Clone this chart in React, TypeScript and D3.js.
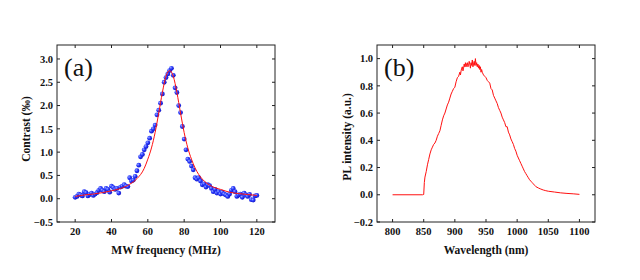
import React from 'react';
import * as d3 from 'd3';

// ---- panel (a): ODMR contrast vs MW frequency ----
const mwFreq = [
  20, 21, 22, 23, 24, 25, 26, 27, 28, 29, 30, 31, 32, 33, 34, 35, 36, 37, 38, 39,
  40, 41, 42, 43, 44, 45, 46, 47, 48, 49, 50, 51, 52, 53, 54, 55, 56, 57, 58, 59,
  60, 61, 62, 63, 64, 65, 66, 67, 68, 69, 70, 71, 72, 73, 74, 75, 76, 77, 78, 79,
  80, 81, 82, 83, 84, 85, 86, 87, 88, 89, 90, 91, 92, 93, 94, 95, 96, 97, 98, 99,
  100, 101, 102, 103, 104, 105, 106, 107, 108, 109, 110, 111, 112, 113, 114, 115, 116, 117, 118, 119, 120,
];
const contrast = [
  0.03, 0.05, 0.10, 0.08, 0.06, 0.15, 0.13, 0.06, 0.09, 0.12, 0.07, 0.10, 0.13, 0.18, 0.22, 0.18, 0.15, 0.22, 0.20, 0.14,
  0.27, 0.24, 0.20, 0.22, 0.12, 0.25, 0.27, 0.30, 0.27, 0.26, 0.45, 0.38, 0.40, 0.48, 0.60, 0.72, 0.90, 0.95, 1.05, 1.12,
  1.20, 1.30, 1.45, 1.50, 1.58, 1.80, 1.90, 2.05, 2.25, 2.50, 2.60, 2.68, 2.75, 2.80, 2.65, 2.38, 2.28, 2.00, 1.85, 1.55,
  1.28, 1.05, 0.85, 0.80, 0.70, 0.62, 0.45, 0.42, 0.45, 0.38, 0.30, 0.32, 0.25, 0.30, 0.28, 0.22, 0.15, 0.20, 0.12, 0.15,
  0.10, 0.14, 0.10, 0.08, 0.05, 0.10, 0.18, 0.22, 0.15, 0.05, 0.08, 0.10, 0.03, 0.12, 0.08, 0.05, 0.09, -0.02, -0.03, 0.06, 0.07,
];
const fitFreq = [20, 25, 30, 35, 40, 45, 50, 54, 58, 60, 62, 64, 66, 68, 70, 71, 72, 73, 74, 76, 78, 80, 82, 84, 86, 88, 90, 95, 100, 105, 110, 115, 120];
const fitContrast = [0.05, 0.08, 0.10, 0.13, 0.17, 0.22, 0.31, 0.43, 0.65, 0.85, 1.09, 1.42, 1.84, 2.28, 2.63, 2.72, 2.75, 2.72, 2.63, 2.28, 1.84, 1.42, 1.09, 0.85, 0.66, 0.52, 0.42, 0.27, 0.20, 0.14, 0.11, 0.09, 0.07];
const aXTicks = [20, 40, 60, 80, 100, 120];
const aYTicks = [-0.5, 0.0, 0.5, 1.0, 1.5, 2.0, 2.5, 3.0];

// ---- panel (b): PL spectrum ----
const plWavelength = [
  800, 848, 850, 851, 852, 854, 856, 858, 860, 862, 864, 866, 868, 870, 872, 874, 876, 878, 880, 882,
  884, 886, 888, 890, 892, 894, 896, 898, 900, 902, 904, 906, 908, 909, 910, 911, 912, 913, 914, 915,
  916, 917, 918, 919, 920, 921, 922, 923, 924, 925, 926, 927, 928, 929, 930, 931, 932, 933, 934, 935,
  936, 937, 938, 939, 940, 941, 942, 943, 944, 946, 948, 950, 952, 954, 956, 958, 960, 962, 964, 966,
  968, 970, 972, 974, 976, 978, 980, 982, 984, 986, 988, 990, 992, 994, 996, 998, 1000, 1002, 1004, 1006,
  1008, 1010, 1012, 1014, 1016, 1018, 1020, 1022, 1024, 1026, 1028, 1030, 1034, 1038, 1042, 1046, 1050, 1060, 1070, 1080,
  1090, 1100,
];
const plIntensity = [
  0, 0, 0.002, 0.09, 0.13, 0.17, 0.22, 0.26, 0.30, 0.33, 0.35, 0.37, 0.38, 0.40, 0.43, 0.45, 0.47, 0.51, 0.55, 0.58,
  0.60, 0.63, 0.66, 0.68, 0.71, 0.74, 0.76, 0.78, 0.79, 0.83, 0.86, 0.87, 0.90, 0.88, 0.91, 0.93, 0.94, 0.91, 0.93, 0.96,
  0.94, 0.97, 0.94, 0.96, 0.97, 0.94, 0.95, 0.98, 0.96, 0.93, 0.97, 0.95, 0.99, 0.94, 0.96, 0.98, 0.95, 1.00, 0.95, 0.97,
  0.94, 0.96, 0.93, 0.95, 0.92, 0.94, 0.90, 0.92, 0.90, 0.88, 0.87, 0.86, 0.84, 0.83, 0.82, 0.78, 0.77, 0.73, 0.71, 0.69,
  0.67, 0.64, 0.62, 0.60, 0.57, 0.55, 0.53, 0.50, 0.50, 0.46, 0.44, 0.41, 0.39, 0.37, 0.34, 0.32, 0.29, 0.27, 0.25, 0.23,
  0.21, 0.19, 0.17, 0.155, 0.14, 0.125, 0.11, 0.10, 0.09, 0.08, 0.07, 0.06, 0.05, 0.042, 0.035, 0.03, 0.026, 0.02, 0.014, 0.01,
  0.007, 0.003,
];
const bXTicks = [800, 850, 900, 950, 1000, 1050, 1100];
const bYTicks = [-0.2, 0.0, 0.2, 0.4, 0.6, 0.8, 1.0];

const FONT = "'Liberation Serif', 'DejaVu Serif', serif";
const TICK = 3;

type Box = { left: number; right: number; top: number; bottom: number };

const Frame = ({ box, x, y, xTicks, yTicks, yFmt, xTitle, yTitle, yTitleX, yTitleY, tag }: any) => {
  const { left, right, top, bottom } = box;
  return (
    <g>
      <rect x={left} y={top} width={right - left} height={bottom - top} fill="none" stroke="#222" strokeWidth={1} />
      {xTicks.map((t: number) => (
        <g key={'x' + t}>
          <line x1={x(t)} x2={x(t)} y1={bottom} y2={bottom - TICK} stroke="#222" />
          <line x1={x(t)} x2={x(t)} y1={top} y2={top + TICK} stroke="#222" />
          <text x={x(t)} y={bottom + 13} textAnchor="middle" fontSize={10.5} fontWeight="bold" fill="#111">
            {t}
          </text>
        </g>
      ))}
      {yTicks.map((t: number) => (
        <g key={'y' + t}>
          <line x1={left} x2={left + TICK} y1={y(t)} y2={y(t)} stroke="#222" />
          <line x1={right} x2={right - TICK} y1={y(t)} y2={y(t)} stroke="#222" />
          <text x={left - 4} y={y(t)} dy="0.35em" textAnchor="end" fontSize={10.5} fontWeight="bold" fill="#111">
            {yFmt(t)}
          </text>
        </g>
      ))}
      <text x={(left + right) / 2} y={bottom + 32} textAnchor="middle" fontSize={11.5} fontWeight="bold" fill="#111">
        {xTitle}
      </text>
      <text
        transform={`translate(${yTitleX},${yTitleY}) rotate(-90)`}
        textAnchor="middle"
        fontSize={11.5}
        fontWeight="bold"
        fill="#111"
      >
        {yTitle}
      </text>
      <text x={left + 7} y={top + 31} fontSize={26} fill="#111">
        {tag}
      </text>
    </g>
  );
};

export default function App() {
  const boxA: Box = { left: 57, right: 275, top: 45, bottom: 222 };
  const boxB: Box = { left: 377, right: 595, top: 45, bottom: 222 };

  const xA = d3.scaleLinear().domain([10, 130]).range([boxA.left, boxA.right]);
  const yA = d3.scaleLinear().domain([-0.5, 3.3]).range([boxA.bottom, boxA.top]);
  const xB = d3.scaleLinear().domain([775, 1125]).range([boxB.left, boxB.right]);
  const yB = d3.scaleLinear().domain([-0.2, 1.1]).range([boxB.bottom, boxB.top]);

  const fitLine = d3
    .line<number>()
    .x((_, i) => xA(fitFreq[i]))
    .y((d) => yA(d))
    .curve(d3.curveMonotoneX)(fitContrast);

  const plLine = d3
    .line<number>()
    .x((_, i) => xB(plWavelength[i]))
    .y((d) => yB(d))(plIntensity);

  return (
    <svg
      width={640}
      height={280}
      style={{ position: 'absolute', left: 0, top: 0, background: '#fff', fontFamily: FONT }}
    >
      <defs>
        <radialGradient id="ball" cx="35%" cy="35%" r="70%">
          <stop offset="0%" stopColor="#9aa8ff" />
          <stop offset="45%" stopColor="#2a3cff" />
          <stop offset="100%" stopColor="#1010c0" />
        </radialGradient>
      </defs>

      <Frame
        box={boxA}
        x={xA}
        y={yA}
        xTicks={aXTicks}
        yTicks={aYTicks}
        yFmt={d3.format('.1f')}
        xTitle="MW frequency (MHz)"
        yTitle="Contrast (‰)"
        yTitleX={30}
        yTitleY={129}
        tag="(a)"
      />
      <g>
        {contrast.map((v, i) => (
          <circle key={i} cx={xA(mwFreq[i])} cy={yA(v)} r={2.4} fill="url(#ball)" />
        ))}
        <path d={fitLine || ''} fill="none" stroke="#ff1010" strokeWidth={1} />
      </g>

      <Frame
        box={boxB}
        x={xB}
        y={yB}
        xTicks={bXTicks}
        yTicks={bYTicks}
        yFmt={d3.format('.1f')}
        xTitle="Wavelength (nm)"
        yTitle="PL intensity (a.u.)"
        yTitleX={351}
        yTitleY={137}
        tag="(b)"
      />
      <path d={plLine || ''} fill="none" stroke="#ff1010" strokeWidth={1} />
    </svg>
  );
}
